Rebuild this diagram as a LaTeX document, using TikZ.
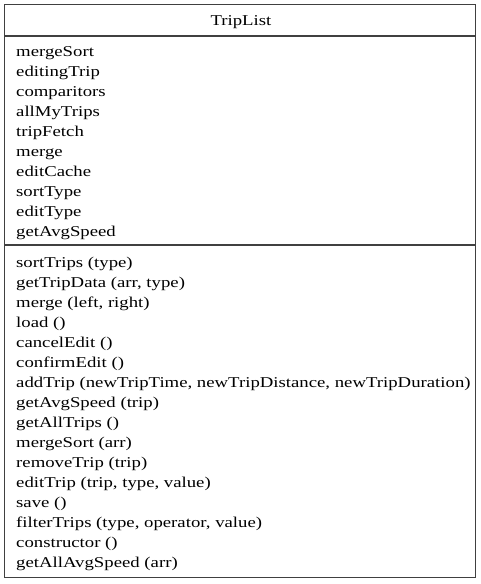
\documentclass[tikz,border=0pt]{standalone}
\usepackage{fontspec}
\setmainfont{Liberation Serif}[FakeStretch=1.25]
\begin{document}
\begin{tikzpicture}[x=1pt,y=-1pt,
  txt/.style={anchor=base west,inner sep=0pt,font=\fontsize{15}{17}\selectfont},
  frame/.style={draw=black!75,line width=1.3pt}]
\useasboundingbox (0,0) rectangle (481,584);
\draw[frame] (4.5,4.5) rectangle (475.5,577.5);
\draw[frame] (4.5,36) -- (475.5,36);
\draw[frame] (4.5,245) -- (475.5,245);
\node[txt,anchor=base] (title) at (241,25.5) {TripList};
\foreach \t [count=\i from 0] in {mergeSort,editingTrip,comparitors,allMyTrips,tripFetch,merge,editCache,sortType,editType,getAvgSpeed}
  \node[txt] (a\i) at (16,56+20*\i) {\t};
\foreach \t [count=\i from 0] in {sortTrips (type),{getTripData (arr, type)},{merge (left, right)},load (),cancelEdit (),confirmEdit (),{addTrip (newTripTime, newTripDistance, newTripDuration)},getAvgSpeed (trip),getAllTrips (),mergeSort (arr),removeTrip (trip),{editTrip (trip, type, value)},save (),{filterTrips (type, operator, value)},constructor (),getAllAvgSpeed (arr)}
  \node[txt] (m\i) at (16,267.5+20*\i) {\t};
\end{tikzpicture}
\end{document}
